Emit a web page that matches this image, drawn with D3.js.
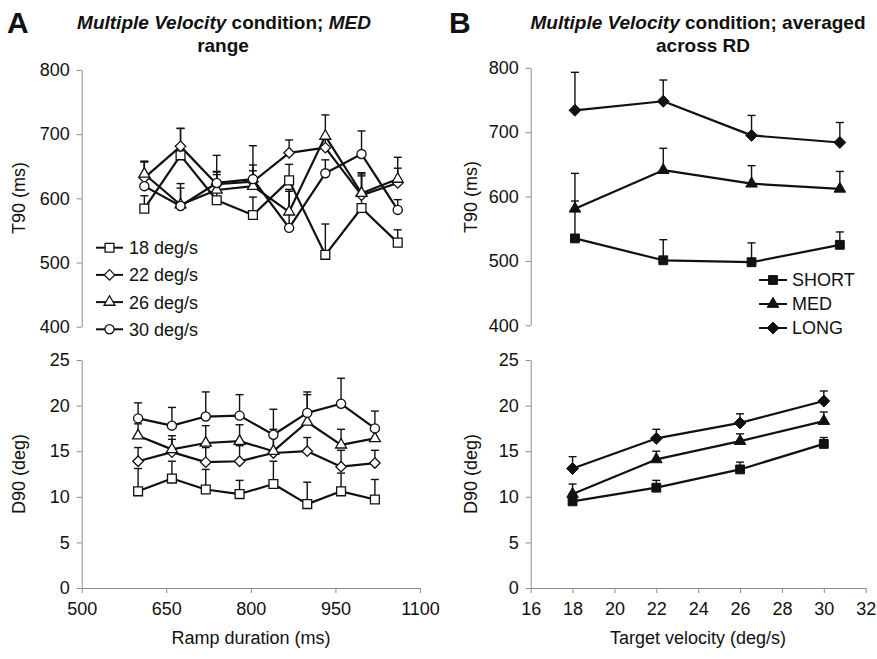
<!DOCTYPE html>
<html><head><meta charset="utf-8">
<script src="https://cdn.jsdelivr.net/npm/d3@7"></script>
<style>
body{margin:0;background:#fff}
svg text{font-family:"Liberation Sans",Arial,Helvetica,sans-serif;fill:#111}
</style>
</head><body>
<svg id="c" width="877" height="659"></svg>
<script>
// ---------- DATA ----------
const rampDurations = [600, 660, 720, 780, 840, 900, 960, 1020];
const velocityLabels = ["18 deg/s", "22 deg/s", "26 deg/s", "30 deg/s"];
const velocityShapes = ["square", "diamond", "triangle", "circle"];

const t90_18 = [584, 667, 597, 574, 628, 512, 585, 531];
const t90_22 = [632, 681, 622, 626, 671, 679, 605, 624];
const t90_26 = [638, 590, 613, 619, 579, 697, 608, 630];
const t90_30 = [619, 588, 624, 630, 554, 639, 669, 582];
const t90err_18 = [20, 42, 40, 28, 25, 48, 50, 20];
const t90err_22 = [25, 28, 45, 26, 20, 18, 35, 23];
const t90err_26 = [20, 26, 28, 24, 35, 33, 30, 34];
const t90err_30 = [38, 35, 18, 52, 57, 21, 36, 16];

const d90_18 = [10.6, 12.0, 10.8, 10.3, 11.4, 9.2, 10.6, 9.7];
const d90_22 = [13.9, 14.9, 13.8, 13.9, 14.8, 15.0, 13.3, 13.7];
const d90_26 = [16.7, 15.2, 15.9, 16.1, 15.0, 18.2, 15.7, 16.4];
const d90_30 = [18.6, 17.8, 18.8, 18.9, 16.8, 19.2, 20.2, 17.5];
const d90err_18 = [2.5, 1.9, 2.2, 1.5, 2.5, 2.4, 2.0, 2.2];
const d90err_22 = [1.5, 1.4, 1.6, 1.7, 1.8, 1.5, 1.8, 1.4];
const d90err_26 = [1.3, 1.5, 1.9, 1.8, 2.4, 3.0, 1.7, 1.2];
const d90err_30 = [1.7, 2.0, 2.7, 2.3, 2.8, 2.3, 2.8, 1.9];

const targetVelocities = [18, 22, 26, 30];
const rangeLabels = ["SHORT", "MED", "LONG"];
const rangeShapes = ["square", "triangle", "diamond"];
const t90_short = [535, 501, 498, 525];
const t90_med   = [581, 641, 620, 612];
const t90_long  = [734, 748, 695, 684];
const t90err_short = [58, 32, 30, 20];
const t90err_med   = [55, 34, 28, 27];
const t90err_long  = [59, 33, 31, 31];
const d90_short = [9.5, 11.0, 13.0, 15.8];
const d90_med   = [10.3, 14.1, 16.1, 18.3];
const d90_long  = [13.1, 16.4, 18.1, 20.5];
const d90err_short = [0.8, 0.8, 0.8, 0.7];
const d90err_med   = [1.1, 0.9, 0.8, 1.0];
const d90err_long  = [1.3, 1.0, 1.0, 1.1];

const t90Ticks = [400, 500, 600, 700, 800];
const d90Ticks = [0, 5, 10, 15, 20, 25];
const rampTicks = [500, 650, 800, 950, 1100];
const velTicks = [16, 18, 20, 22, 24, 26, 28, 30, 32];

// ---------- SETUP ----------
const svg = d3.select("#c");
const AX = "#8c8c8c", INK = "#111";
const fmt = d3.format("d");

const diamondType = { draw(ctx, size) { const r = Math.sqrt(size) * 0.62625;
  ctx.moveTo(0, -r); ctx.lineTo(r, 0); ctx.lineTo(0, r); ctx.lineTo(-r, 0); ctx.closePath(); } };
function symPath(shape, filled) {
  const m = { square: [d3.symbolSquare, 78],
              triangle: [d3.symbolTriangle, filled ? 58 : 52],
              diamond: [diamondType, filled ? 90 : 70],
              circle: [d3.symbolCircle, 66] }[shape];
  return d3.symbol().type(m[0]).size(m[1])();
}

function yAxis(scale, ticks, x) {
  const g = svg.append("g").attr("transform", `translate(${x},0)`)
    .call(d3.axisLeft(scale).tickValues(ticks).tickFormat(fmt).tickSize(5).tickSizeOuter(0).tickPadding(7));
  g.selectAll("path,line").attr("stroke", AX).attr("stroke-width", 1);
  g.selectAll("text").attr("font-size", 18).attr("fill", INK);
  return g;
}
function xAxis(scale, ticks, y) {
  const g = svg.append("g").attr("transform", `translate(0,${y})`)
    .call(d3.axisBottom(scale).tickValues(ticks).tickFormat(fmt).tickSize(5).tickSizeOuter(0).tickPadding(9));
  g.selectAll("path,line").attr("stroke", AX).attr("stroke-width", 1);
  g.selectAll("text").attr("font-size", 18).attr("fill", INK);
  return g;
}

function drawSeries(xs, ys, xv, series, filled) {
  series.forEach(s => {
    s.vals.forEach((v, i) => {
      const x = xs(xv[i]), y0 = ys(v), y1 = ys(v + s.err[i]);
      svg.append("line").attr("x1", x).attr("x2", x).attr("y1", y0).attr("y2", y1)
        .attr("stroke", INK).attr("stroke-width", 1.4);
      svg.append("line").attr("x1", x - 4).attr("x2", x + 4).attr("y1", y1).attr("y2", y1)
        .attr("stroke", INK).attr("stroke-width", 1.4);
    });
  });
  const line = d3.line().x((d, i) => xs(xv[i])).y(d => ys(d));
  series.forEach(s => {
    svg.append("path").attr("d", line(s.vals)).attr("fill", "none")
      .attr("stroke", INK).attr("stroke-width", 2.2).attr("stroke-linejoin", "round");
  });
  series.forEach(s => {
    s.vals.forEach((v, i) => {
      svg.append("path").attr("d", symPath(s.shape, filled))
        .attr("transform", `translate(${xs(xv[i])},${ys(v)})`)
        .attr("fill", filled ? INK : "#fff").attr("stroke", INK).attr("stroke-width", filled ? 1 : 1.3);
    });
  });
}

// ---------- PANEL A ----------
const yTA = d3.scaleLinear().domain([400, 800]).range([326.7, 70]);
const yBA = d3.scaleLinear().domain([0, 25]).range([588, 360]);
const xTA = d3.scaleLinear().domain([500, 1100]).range([84, 446]);   // hidden axis of the upper chart
const xBA = d3.scaleLinear().domain([500, 1100]).range([81.7, 420]);

yAxis(yTA, t90Ticks, 81.7);
yAxis(yBA, d90Ticks, 81.7);
xAxis(xBA, rampTicks, 588);

const seriesTA = [
  { vals: t90_18, err: t90err_18, shape: velocityShapes[0] },
  { vals: t90_22, err: t90err_22, shape: velocityShapes[1] },
  { vals: t90_26, err: t90err_26, shape: velocityShapes[2] },
  { vals: t90_30, err: t90err_30, shape: velocityShapes[3] }];
const seriesBA = [
  { vals: d90_18, err: d90err_18, shape: velocityShapes[0] },
  { vals: d90_22, err: d90err_22, shape: velocityShapes[1] },
  { vals: d90_26, err: d90err_26, shape: velocityShapes[2] },
  { vals: d90_30, err: d90err_30, shape: velocityShapes[3] }];
drawSeries(xTA, yTA, rampDurations, seriesTA, false);
drawSeries(xBA, yBA, rampDurations, seriesBA, false);

velocityLabels.forEach((lab, i) => {
  const y = 247.7 + i * 27.2;
  svg.append("line").attr("x1", 96).attr("x2", 123).attr("y1", y).attr("y2", y)
    .attr("stroke", INK).attr("stroke-width", 2);
  svg.append("path").attr("d", symPath(velocityShapes[i], false))
    .attr("transform", `translate(109.5,${y})`).attr("fill", "#fff").attr("stroke", INK).attr("stroke-width", 1.3);
  svg.append("text").attr("x", 129).attr("y", y).attr("dy", "0.36em").attr("font-size", 18).text(lab);
});

// ---------- PANEL B ----------
const yTB = d3.scaleLinear().domain([400, 800]).range([325.3, 67.8]);
const yBB = d3.scaleLinear().domain([0, 25]).range([588, 360]);
const xTB = d3.scaleLinear().domain([16, 32]).range([530.8, 884]);    // hidden axis of the upper chart
const xBB = d3.scaleLinear().domain([16, 32]).range([530.7, 865.7]);

yAxis(yTB, t90Ticks, 530.7);
yAxis(yBB, d90Ticks, 530.7);
xAxis(xBB, velTicks, 588);

const seriesTB = [
  { vals: t90_short, err: t90err_short, shape: rangeShapes[0] },
  { vals: t90_med,   err: t90err_med,   shape: rangeShapes[1] },
  { vals: t90_long,  err: t90err_long,  shape: rangeShapes[2] }];
const seriesBB = [
  { vals: d90_short, err: d90err_short, shape: rangeShapes[0] },
  { vals: d90_med,   err: d90err_med,   shape: rangeShapes[1] },
  { vals: d90_long,  err: d90err_long,  shape: rangeShapes[2] }];
drawSeries(xTB, yTB, targetVelocities, seriesTB, true);
drawSeries(xBB, yBB, targetVelocities, seriesBB, true);

rangeLabels.forEach((lab, i) => {
  const y = 280 + i * 24;
  svg.append("line").attr("x1", 759).attr("x2", 787).attr("y1", y).attr("y2", y)
    .attr("stroke", INK).attr("stroke-width", 2);
  svg.append("path").attr("d", symPath(rangeShapes[i], true))
    .attr("transform", `translate(773,${y})`).attr("fill", INK).attr("stroke", INK);
  svg.append("text").attr("x", 792).attr("y", y).attr("dy", "0.36em").attr("font-size", 18).text(lab);
});

// ---------- TEXT ----------
function vTitle(txt, x, y) {
  svg.append("text").attr("transform", `translate(${x},${y}) rotate(-90)`)
    .attr("text-anchor", "middle").attr("font-size", 18).text(txt);
}
vTitle("T90 (ms)", 25, 198);
vTitle("D90 (deg)", 25, 474);
vTitle("T90 (ms)", 477, 197);
vTitle("D90 (deg)", 477, 474);

svg.append("text").attr("x", 251).attr("y", 644).attr("text-anchor", "middle").attr("font-size", 18).text("Ramp duration (ms)");
svg.append("text").attr("x", 698).attr("y", 644).attr("text-anchor", "middle").attr("font-size", 18).text("Target velocity (deg/s)");

svg.append("text").attr("x", 7).attr("y", 33).attr("font-size", 30).attr("font-weight", "bold").text("A");
svg.append("text").attr("x", 449).attr("y", 33).attr("font-size", 30).attr("font-weight", "bold").text("B");

function title(parts, x, y) {
  const t = svg.append("text").attr("x", x).attr("y", y).attr("text-anchor", "middle")
    .attr("font-size", 19).attr("font-weight", "bold");
  parts.forEach(p => t.append("tspan").attr("font-style", p[1] ? "italic" : "normal").text(p[0]));
}
title([["Multiple Velocity", true], [" condition; ", false], ["MED", true]], 224, 29);
title([["range", false]], 223, 52);
title([["Multiple Velocity", true], [" condition; averaged", false]], 698, 29);
title([["across RD", false]], 703, 52);
</script>
</body></html>
